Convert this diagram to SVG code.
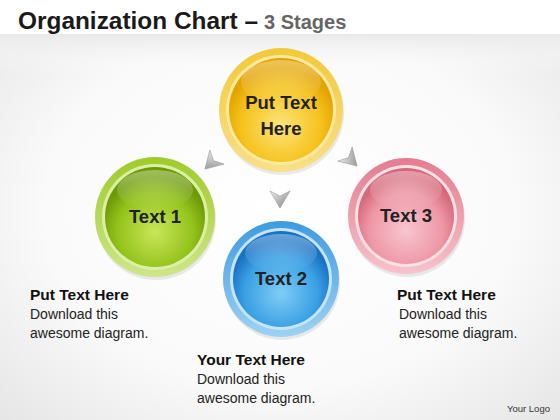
<svg xmlns="http://www.w3.org/2000/svg" width="560" height="420" viewBox="0 0 560 420">
<defs>
<radialGradient id="bg" cx="0.5" cy="0.5" r="0.7">
<stop offset="0" stop-color="#ffffff"/><stop offset="0.6" stop-color="#fafafa"/><stop offset="1" stop-color="#e6e6e6"/>
</radialGradient>
<linearGradient id="band" x1="0" y1="0" x2="0" y2="1">
<stop offset="0" stop-color="#e9e9e9"/><stop offset="1" stop-color="#ffffff" stop-opacity="0"/>
</linearGradient>
<radialGradient id="gY" cx="0.5" cy="0.65" r="0.55"><stop offset="0" stop-color="#fde47a"/><stop offset="0.7" stop-color="#f6c21c"/><stop offset="1" stop-color="#e3a300"/></radialGradient>
<linearGradient id="rY" x1="0" y1="0" x2="0" y2="1"><stop offset="0" stop-color="#f3c93a"/><stop offset="1" stop-color="#f9e08a"/></linearGradient>
<radialGradient id="gG" cx="0.5" cy="0.65" r="0.55"><stop offset="0" stop-color="#c9e65a"/><stop offset="0.7" stop-color="#93c21a"/><stop offset="1" stop-color="#6e9a08"/></radialGradient>
<linearGradient id="rG" x1="0" y1="0" x2="0" y2="1"><stop offset="0" stop-color="#9fcb2a"/><stop offset="1" stop-color="#cfe68a"/></linearGradient>
<radialGradient id="gB" cx="0.5" cy="0.65" r="0.55"><stop offset="0" stop-color="#7fcdf5"/><stop offset="0.7" stop-color="#3a9fe4"/><stop offset="1" stop-color="#1a72c4"/></radialGradient>
<linearGradient id="rB" x1="0" y1="0" x2="0" y2="1"><stop offset="0" stop-color="#3d9be0"/><stop offset="1" stop-color="#9fd2f2"/></linearGradient>
<radialGradient id="gP" cx="0.5" cy="0.65" r="0.55"><stop offset="0" stop-color="#f7c6cf"/><stop offset="0.7" stop-color="#ee97a6"/><stop offset="1" stop-color="#d66a7c"/></radialGradient>
<linearGradient id="rP" x1="0" y1="0" x2="0" y2="1"><stop offset="0" stop-color="#e47d8f"/><stop offset="1" stop-color="#f6c3cc"/></linearGradient>
<linearGradient id="gloss" x1="0" y1="0" x2="0" y2="1"><stop offset="0" stop-color="#ffffff" stop-opacity="0.35"/><stop offset="1" stop-color="#ffffff" stop-opacity="0"/></linearGradient>
<linearGradient id="arr" x1="0" y1="0" x2="1" y2="1"><stop offset="0" stop-color="#eeeeee"/><stop offset="1" stop-color="#808080"/></linearGradient>
<path id="chev" d="M-10,-7 L0,-2 L10,-7 L0,10 Z"/>
</defs>
<style>
.t{font-family:"Liberation Sans",Arial,sans-serif;font-weight:bold;fill:#1a1a1a}
.lbl{font-family:"Liberation Sans",Arial,sans-serif;font-weight:bold;font-size:18.5px;fill:#222;text-anchor:middle}
.h{font-family:"Liberation Sans",Arial,sans-serif;font-weight:bold;font-size:15.5px;fill:#111}
.b{font-family:"Liberation Sans",Arial,sans-serif;font-size:14px;fill:#222}
.shadow{fill:#000;opacity:0.08}
.a{fill:url(#arr);stroke:#9a9a9a;stroke-width:0.6}
</style>
<rect width="560" height="420" fill="url(#bg)"/>
<rect width="560" height="34" fill="#ffffff"/>
<rect y="34" width="560" height="40" fill="url(#band)"/>
<text x="18" y="29" class="t" font-size="24" textLength="240" lengthAdjust="spacingAndGlyphs">Organization Chart –</text>
<text x="264" y="29" class="t" font-size="20" fill="#666" style="fill:#666">3 Stages</text>

<g id="connectors">
<use href="#chev" class="a" transform="translate(212,162) rotate(45)"/>
<use href="#chev" class="a" transform="translate(280,198)"/>
<use href="#chev" class="a" transform="translate(350,159) rotate(-45)"/>
</g>

<g id="node-top">
<circle cx="282" cy="113" r="62" class="shadow"/>
<circle cx="281" cy="110" r="62" fill="url(#rY)"/>
<circle cx="281" cy="110" r="55" fill="#fbe9a0"/>
<circle cx="281" cy="110" r="52" fill="url(#gY)"/>
<ellipse cx="281" cy="82" rx="40" ry="22" fill="url(#gloss)"/>
<text x="281" y="109" class="lbl">Put Text</text>
<text x="281" y="135" class="lbl">Here</text>
</g>

<g id="node-1">
<circle cx="156" cy="220" r="60" class="shadow"/>
<circle cx="155" cy="217" r="60" fill="url(#rG)"/>
<circle cx="155" cy="217" r="53" fill="#dcefa6"/>
<circle cx="155" cy="217" r="50" fill="url(#gG)"/>
<ellipse cx="155" cy="190" rx="38" ry="20" fill="url(#gloss)"/>
<text x="155" y="223" class="lbl">Text 1</text>
</g>

<g id="node-2">
<circle cx="282" cy="282" r="58" class="shadow"/>
<circle cx="281" cy="279" r="58" fill="url(#rB)"/>
<circle cx="281" cy="279" r="51" fill="#c4e4f8"/>
<circle cx="281" cy="279" r="48" fill="url(#gB)"/>
<ellipse cx="281" cy="253" rx="36" ry="19" fill="url(#gloss)"/>
<text x="281" y="285" class="lbl">Text 2</text>
</g>

<g id="node-3">
<circle cx="407" cy="219" r="58" class="shadow"/>
<circle cx="406" cy="216" r="58" fill="url(#rP)"/>
<circle cx="406" cy="216" r="51" fill="#fbe0e5"/>
<circle cx="406" cy="216" r="48" fill="url(#gP)"/>
<ellipse cx="406" cy="190" rx="36" ry="19" fill="url(#gloss)"/>
<text x="406" y="222" class="lbl">Text 3</text>
</g>

<g id="caption-left">
<text x="30" y="300" class="h">Put Text Here</text>
<text x="30" y="319" class="b">Download this</text>
<text x="30" y="338" class="b">awesome diagram.</text>
</g>
<g id="caption-bottom">
<text x="197" y="365" class="h">Your Text Here</text>
<text x="197" y="384" class="b">Download this</text>
<text x="197" y="403" class="b">awesome diagram.</text>
</g>
<g id="caption-right">
<text x="397" y="300" class="h">Put Text Here</text>
<text x="399" y="319" class="b">Download this</text>
<text x="399" y="338" class="b">awesome diagram.</text>
</g>
<text x="507" y="412" font-family="Liberation Sans,Arial,sans-serif" font-size="9.5" fill="#333">Your Logo</text>
</svg>
